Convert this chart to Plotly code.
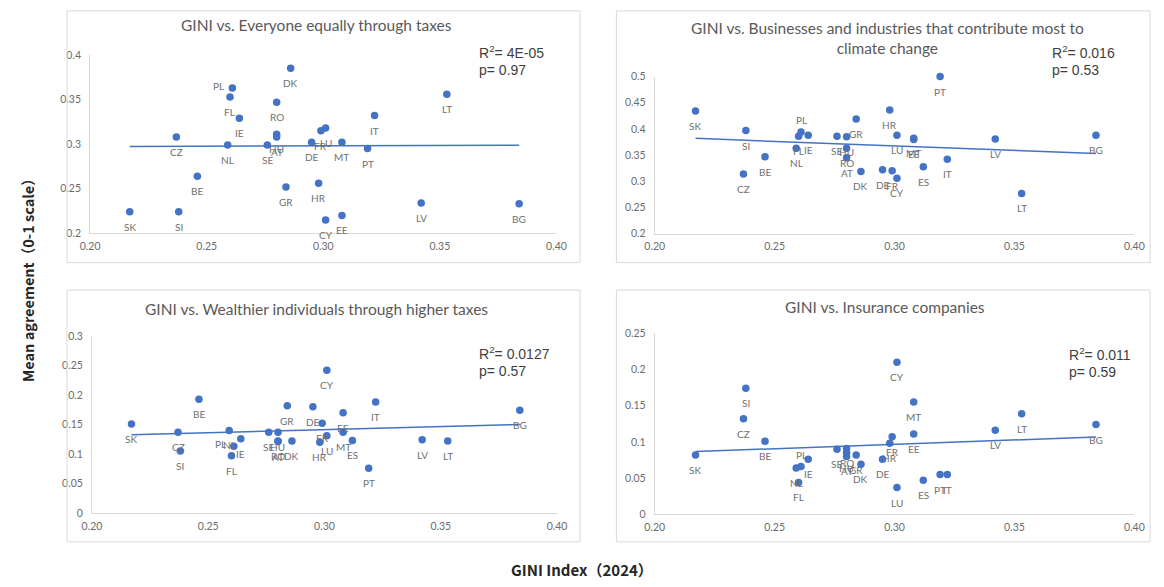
import plotly.graph_objects as go

# Country codes and their GINI index (2024)
countries = ["SK", "CZ", "SI", "BE", "NL", "FL", "PL", "IE", "SE", "RO", "HU", "AT", "GR", "DK",
             "DE", "HR", "FR", "LU", "CY", "EE", "MT", "ES", "PT", "IT", "LV", "LT", "BG"]
gini = [0.217, 0.237, 0.238, 0.246, 0.259, 0.260, 0.261, 0.264, 0.276, 0.280, 0.280, 0.280, 0.284, 0.286,
        0.295, 0.298, 0.299, 0.301, 0.301, 0.308, 0.308, 0.312, 0.319, 0.322, 0.342, 0.353, 0.384]

# Mean agreement (0-1 scale) per country for each item; None = no value
everyone_taxes = [0.224, 0.308, 0.224, 0.264, 0.299, 0.353, 0.363, 0.329, 0.299, 0.347, 0.311, 0.308, 0.252, 0.385,
                  0.302, 0.256, 0.315, 0.318, 0.215, 0.220, 0.302, None, 0.295, 0.332, 0.234, 0.356, 0.233]
businesses = [0.434, 0.314, 0.397, 0.347, 0.363, 0.386, 0.394, 0.388, 0.386, 0.363, 0.385, 0.345, 0.419, 0.319,
              0.322, 0.436, 0.320, 0.388, 0.306, 0.380, 0.382, 0.328, 0.500, 0.342, 0.381, 0.277, 0.388]
wealthier = [0.151, 0.137, 0.105, 0.193, 0.140, 0.097, 0.113, 0.126, 0.137, 0.122, 0.137, 0.121, 0.182, 0.122,
             0.180, 0.120, 0.152, 0.131, 0.242, 0.170, 0.137, 0.123, 0.076, 0.188, 0.124, 0.122, 0.174]
insurance = [0.082, 0.132, 0.174, 0.101, 0.064, 0.044, 0.066, 0.076, 0.090, 0.091, 0.085, 0.080, 0.082, 0.069,
             0.076, 0.098, 0.107, 0.037, 0.210, 0.111, 0.155, 0.047, 0.055, 0.055, 0.116, 0.139, 0.124]

# Linear trendline values at the lowest and highest GINI of each item
trend_start = [0.2973, 0.3820, 0.1326, 0.0866]
trend_end = [0.2988, 0.3530, 0.1500, 0.1068]

panel_titles = ["GINI vs. Everyone equally through taxes",
                "GINI vs. Businesses and industries that contribute most to<br>climate change",
                "GINI vs. Wealthier individuals through higher taxes",
                "GINI vs. Insurance companies"]
r2_labels = ["4E-05", "0.016", "0.0127", "0.011"]
p_labels = ["0.97", "0.53", "0.57", "0.59"]
y_ranges = [[0.2, 0.4], [0.2, 0.5], [0.0, 0.3], [0.0, 0.25]]
x_range = [0.20, 0.40]
x_ticks = [0.20, 0.25, 0.30, 0.35, 0.40]

series = [everyone_taxes, businesses, wealthier, insurance]

W, H = 1164, 587
BLUE = "#4472C4"
GREY_TXT = "#595959"


def fx(p):
    return p / W


def fy(p):
    return 1 - p / H


# plot areas in pixels: left, right, bottom, top
plot_px = [(81.5, 556, 232, 50), (656, 1144, 232.5, 72), (83.4, 556.6, 517.5, 337), (656, 1144, 519, 334)]
# outer chart boxes: left, top, right, bottom
box_px = [(58, 5, 580, 262), (617, 5, 1160, 262), (58, 290, 580, 547), (617, 290, 1160, 547)]
title_px = [(312, 19), (893, 33), (312, 309), (890, 307)]
stat_px = [(475, 47), (1058, 47), (475, 354), (1075, 355)]
# label placement exceptions per panel
label_pos = [{"PL": "left"}, {"PL": "top"}, {"PL": "left"}, {"PL": "top"}]

fig = go.Figure()
annotations = []
shapes = []

for i, vals in enumerate(series):
    n = i + 1
    xa = "x" if n == 1 else f"x{n}"
    ya = "y" if n == 1 else f"y{n}"
    xs = [g for g, v in zip(gini, vals) if v is not None]
    ys = [v for v in vals if v is not None]
    labs = [c for c, v in zip(countries, vals) if v is not None]

    # trendline across the observed GINI range
    fig.add_trace(go.Scatter(x=[min(xs), max(xs)], y=[trend_start[i], trend_end[i]], mode="lines",
                             xaxis=xa, yaxis=ya, line=dict(color=BLUE, width=1.5),
                             showlegend=False, hoverinfo="skip"))

    fig.add_trace(go.Scatter(x=xs, y=ys, mode="markers", xaxis=xa, yaxis=ya, cliponaxis=False,
                             marker=dict(color=BLUE, size=7.5), showlegend=False, hoverinfo="skip"))

    for c, x, y in zip(labs, xs, ys):
        pos = label_pos[i].get(c, "below")
        a = dict(x=x, y=y, xref=xa, yref=ya, text=c, showarrow=False,
                 font=dict(family="Lato", size=10, color="#707070"))
        if pos == "below":
            a.update(yshift=-15)
        elif pos == "top":
            a.update(yshift=12)
        elif pos == "left":
            a.update(xshift=-6, xanchor="right", yshift=2)
        annotations.append(a)

    l, r, b, t = plot_px[i]
    lay_x = dict(domain=[fx(l), fx(r)], range=x_range, tickvals=x_ticks,
                 ticktext=[f"{v:.2f}" for v in x_ticks], showgrid=False, zeroline=False,
                 showline=True, linecolor="#d9d9d9", linewidth=1, ticks="",
                 tickfont=dict(family="Lato", size=10.5, color="#6b6b6b"),
                 anchor=ya, fixedrange=True, ticklabelstandoff=3)
    lay_y = dict(domain=[fy(b), fy(t)], range=y_ranges[i], dtick=0.05, tick0=0,
                 showgrid=False, zeroline=False, showline=True, linecolor="#d9d9d9", linewidth=1,
                 ticks="", tickfont=dict(family="Lato", size=10.5, color="#6b6b6b"),
                 anchor=xa, fixedrange=True, ticklabelstandoff=6)
    fig.update_layout(**{("xaxis" if n == 1 else f"xaxis{n}"): lay_x,
                         ("yaxis" if n == 1 else f"yaxis{n}"): lay_y})

    bx0, by0, bx1, by1 = box_px[i]
    shapes.append(dict(type="rect", xref="paper", yref="paper", x0=fx(bx0), x1=fx(bx1),
                       y0=fy(by1), y1=fy(by0), line=dict(color="#d9d9d9", width=1)))

    tx_, ty_ = title_px[i]
    annotations.append(dict(x=fx(tx_), y=fy(ty_), xref="paper", yref="paper", text=panel_titles[i],
                            showarrow=False, xanchor="center", yanchor="middle",
                            font=dict(family="Lato", size=15.5, color=GREY_TXT)))

    sx, sy = stat_px[i]
    annotations.append(dict(x=fx(sx), y=fy(sy), xref="paper", yref="paper",
                            text=f"R<sup>2</sup>= {r2_labels[i]}", showarrow=False,
                            xanchor="left", yanchor="middle",
                            font=dict(family="Liberation Sans", size=14, color="#404040")))
    annotations.append(dict(x=fx(sx), y=fy(sy + 18.5), xref="paper", yref="paper",
                            text=f"p= {p_labels[i]}", showarrow=False,
                            xanchor="left", yanchor="middle",
                            font=dict(family="Liberation Sans", size=14, color="#404040")))

# shared axis titles
annotations.append(dict(x=fx(18), y=fy(276), xref="paper", yref="paper", text="<b>Mean agreement（0-1 scale）</b>",
                        showarrow=False, textangle=-90, xanchor="center", yanchor="middle",
                        font=dict(family="Noto Sans CJK SC", size=14.5, color="#262626")))
annotations.append(dict(x=fx(582), y=fy(575), xref="paper", yref="paper", text="<b>GINI Index（2024）</b>",
                        showarrow=False, xanchor="center", yanchor="middle",
                        font=dict(family="Noto Sans CJK SC", size=15, color="#262626")))

fig.update_layout(width=W, height=H, margin=dict(l=0, r=0, t=0, b=0),
                  paper_bgcolor="white", plot_bgcolor="white",
                  annotations=annotations, shapes=shapes, showlegend=False)

fig.write_html("out.html")
